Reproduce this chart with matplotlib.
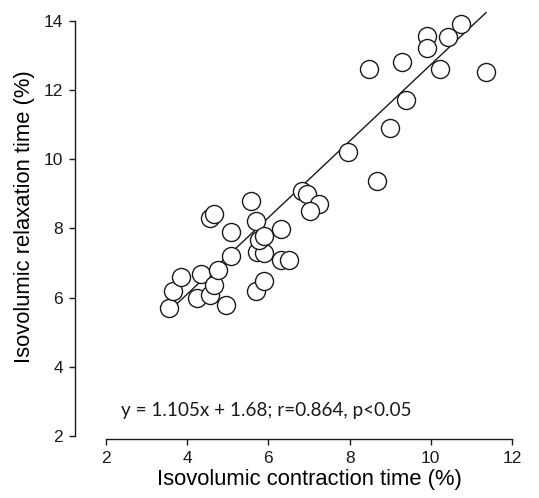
import matplotlib
matplotlib.use('Agg')
import matplotlib.pyplot as plt

plt.rcParams['font.family'] = ['Liberation Sans', 'DejaVu Sans']

# contraction / relaxation times (% of cycle)
contraction = [3.54, 3.64, 3.84, 4.25, 4.35, 4.57, 4.65, 4.77, 4.96, 5.07,
               5.07, 4.57, 4.67, 5.58, 5.69, 5.69, 5.88, 5.72, 5.88, 5.78,
               5.88, 6.30, 6.30, 6.50, 6.83, 6.95, 7.24, 7.02, 7.96, 8.67,
               8.99, 8.47, 9.30, 9.38, 9.90, 9.90, 10.43, 10.23, 10.74, 11.36]
relaxation = [5.69, 6.19, 6.58, 6.00, 6.68, 6.07, 6.36, 6.80, 5.78, 7.20,
              7.90, 8.29, 8.41, 8.80, 8.22, 6.19, 6.48, 7.32, 7.28, 7.67,
              7.77, 7.98, 7.08, 7.08, 9.09, 8.98, 8.70, 8.51, 10.2, 9.38,
              10.9, 12.6, 12.8, 11.7, 13.55, 13.2, 13.52, 12.6, 13.9, 12.53]

slope, intercept = 1.105, 1.68
fit_label = 'y = 1.105x + 1.68; r=0.864, p<0.05'

xticks = [2, 4, 6, 8, 10, 12]
yticks = [2, 4, 6, 8, 10, 12, 14]

fig = plt.figure(figsize=(5.39, 4.98), dpi=100)
ax = fig.add_axes([0.1967, 0.1245, 0.7532, 0.834])

ax.plot(contraction, relaxation, linestyle='none', marker='o',
        markersize=13, markerfacecolor='white', markeredgecolor='#1a1a1a',
        markeredgewidth=1.0, clip_on=False, zorder=3)

# regression line over the range of the data
x0, x1 = min(contraction), max(contraction)
ax.plot([x0, x1], [slope * x0 + intercept, slope * x1 + intercept],
        color='#1a1a1a', linewidth=1.0, zorder=2, clip_on=False)

ax.text(2.37, 2.58, fit_label, fontsize=13.6, family=['Lato', 'DejaVu Sans'],
        va='baseline', color='#1a1a1a')

ax.set_xlim(2, 12)
ax.set_ylim(2, 14)
ax.set_xticks(xticks)
ax.set_yticks(yticks)

for side in ('top', 'right'):
    ax.spines[side].set_visible(False)
ax.spines['left'].set_position(('outward', 22.5))
ax.spines['bottom'].set_position(('outward', 2.2))
for side in ('left', 'bottom'):
    ax.spines[side].set_linewidth(1.0)
    ax.spines[side].set_color('#1a1a1a')

ax.tick_params(direction='out', length=4.5, width=1.0, labelsize=12.5,
               colors='#1a1a1a', pad=4)

ax.set_xlabel('Isovolumic contraction time (%)', fontsize=15.8, labelpad=2)
ax.set_ylabel('Isovolumic relaxation time (%)', fontsize=15.8, labelpad=6)
ax.yaxis.label.set_y(0.527)

fig.savefig('out.png', dpi=100)
